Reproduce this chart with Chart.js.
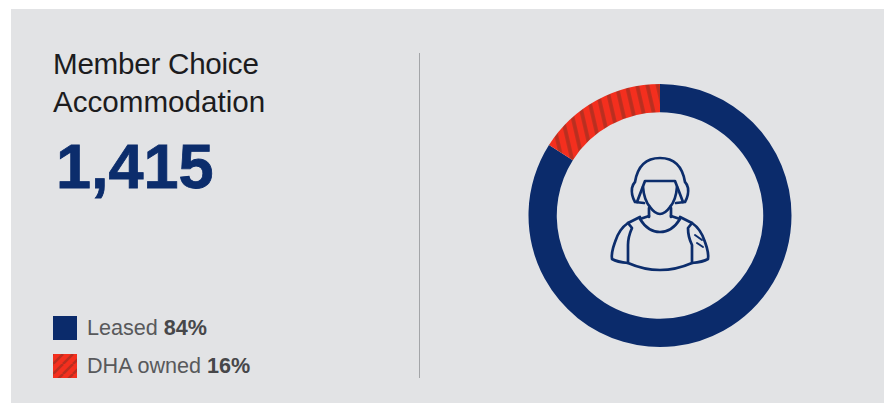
<!DOCTYPE html>
<html>
<head>
<meta charset="utf-8">
<title>Member Choice Accommodation</title>
<script src="https://cdn.jsdelivr.net/npm/chart.js@4/dist/chart.umd.min.js"></script>
<style>
    html, body { margin: 0; padding: 0; background: #fff; }
    body { width: 888px; height: 403px; overflow: hidden; position: relative; font-family: "Liberation Sans", sans-serif; }
    #panel { position: absolute; left: 11px; top: 9px; width: 873px; height: 394px; background: #e2e3e5; }
    #title { position: absolute; left: 53px; top: 45px; font-size: 29.6px; line-height: 38px; color: #1c1c1e; }
    #title span { letter-spacing: -0.25px; }
    #total { position: absolute; left: 56px; top: 130px; font-size: 63px; line-height: 72px; font-weight: bold; color: #0c2d6c; -webkit-text-stroke: 0.8px #0c2d6c; }
    #divider { position: absolute; left: 419px; top: 53px; width: 1px; height: 325px; background: #a3a5a8; }
    #legend { position: absolute; left: 53px; top: 316px; }
    .row { position: relative; height: 38px; }
    .row canvas { position: absolute; left: 0; top: 0; }
    .row span { position: absolute; left: 34px; top: -1px; font-size: 21.6px; line-height: 25px; color: #58595b; white-space: nowrap; }
    .row b { color: #474749; }
    #chartBox { position: absolute; left: 520px; top: 76px; width: 280px; height: 280px; }
    #icon { position: absolute; left: 600px; top: 145px; }
</style>
</head>
<body>
<div id="panel"></div>
<div id="title"><span>Member Choice</span><br>Accommodation</div>
<div id="total"></div>
<div id="divider"></div>
<div id="legend"></div>
<div id="chartBox"><canvas id="ring" width="280" height="279"></canvas></div>

<svg id="icon" width="120" height="135" viewBox="0 0 120 135" fill="none" stroke="#0c2d6c" stroke-width="2.7" stroke-linejoin="round" stroke-linecap="round">
    <!-- helmet -->
    <path d="M44 58 L35 57 Q31 50 32 43 Q33 39 35 37 Q39 13 60 13 Q81 13 85 37 Q87 39 88 43 Q89 50 85 57 L76 58"/>
    <path d="M37 57 L45 36 L75 36 L83 57"/>
    <!-- face and neck -->
    <path d="M43 42 Q44 55 50 62 Q55 69 60 69 Q65 69 70 62 Q76 55 77 42"/>
    <path d="M49 63 L49 72 M71 63 L71 72"/>
    <!-- vest -->
    <path d="M49 71 L40 74 Q48 87 60 87 Q72 87 80 74 L71 71"/>
    <path d="M40 72 L28 78 L32 83 Q28 92 28 100 L28 118 Q60 132 92 118 L92 100 Q88 92 88 83 L92 78 L80 72"/>
    <!-- arms -->
    <path d="M28 78 Q19 84 15 97 Q11 108 12 114 Q17 117 28 118"/>
    <path d="M92 78 Q101 84 105 97 Q109 108 108 114 Q103 117 92 118"/>
    <path d="M95 90 L102 95 M97 98 L103 102" stroke-width="2"/>
</svg>

<script>
const categories = ['Leased', 'DHA owned'];
const shares = [84, 16];
const titleTotal = '1,415';

const NAVY = '#0b2b6b';
const RED = '#f42f1e';
const STRIPE = '#b92f20';

// diagonal bands for the legend swatch
function swatchPattern(ctx) {
    const tile = document.createElement('canvas');
    tile.width = 10;
    tile.height = 10;
    const t = tile.getContext('2d');
    t.fillStyle = RED;
    t.fillRect(0, 0, 10, 10);
    t.strokeStyle = STRIPE;
    t.lineWidth = 2.5;
    for (let i = -10; i <= 20; i += 10) {
        t.beginPath();
        t.moveTo(i, 10);
        t.lineTo(i + 10, 0);
        t.stroke();
    }
    return ctx.createPattern(tile, 'repeat');
}

// soft bands leaning slightly to the right for the ring
function ringPattern(ctx) {
    const tile = document.createElement('canvas');
    tile.width = 10;
    tile.height = 10;
    const t = tile.getContext('2d');
    const band = t.createLinearGradient(0, 0, 10, 0);
    band.addColorStop(0, RED);
    band.addColorStop(0.06, STRIPE);
    band.addColorStop(0.34, STRIPE);
    band.addColorStop(0.42, RED);
    band.addColorStop(1, RED);
    t.fillStyle = band;
    t.fillRect(0, 0, 10, 10);
    const pattern = ctx.createPattern(tile, 'repeat');
    pattern.setTransform(new DOMMatrix().rotate(-13));
    return pattern;
}

document.getElementById('total').textContent = titleTotal;

// legend rows are built from the same arrays as the ring
const legend = document.getElementById('legend');
categories.forEach((name, i) => {
    const row = document.createElement('div');
    row.className = 'row';
    const swatch = document.createElement('canvas');
    swatch.width = 24;
    swatch.height = 24;
    const sctx = swatch.getContext('2d');
    sctx.fillStyle = i === 0 ? NAVY : swatchPattern(sctx);
    sctx.fillRect(0, 0, 24, 24);
    const label = document.createElement('span');
    label.innerHTML = `${name} <b>${shares[i]}%</b>`;
    row.append(swatch, label);
    legend.appendChild(row);
});

const ringCtx = document.getElementById('ring').getContext('2d');
new Chart(ringCtx, {
    type: 'doughnut',
    data: {
        labels: categories,
        datasets: [{
            data: shares,
            backgroundColor: [NAVY, ringPattern(ringCtx)],
            borderWidth: 0
        }]
    },
    options: {
        responsive: false,
        animation: false,
        cutout: '78.5%',
        layout: { padding: { top: 8, bottom: 8, left: 8.5, right: 8.5 } },
        plugins: {
            legend: { display: false },
            tooltip: { enabled: false }
        }
    }
});
</script>
</body>
</html>
